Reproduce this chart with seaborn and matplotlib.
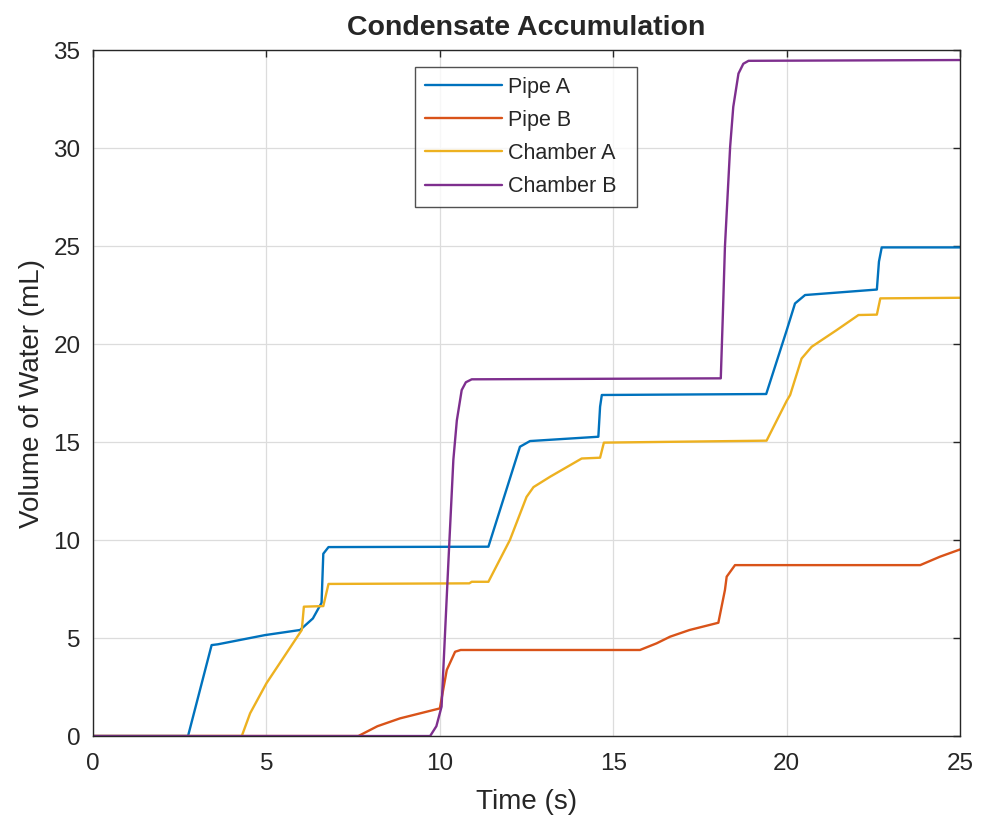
import matplotlib
matplotlib.use("Agg")
import matplotlib.pyplot as plt
import seaborn as sns
import numpy as np
import pandas as pd

# breakpoints (time in s, volume in mL)
pipe_a_t = [0, 2.74, 3.42, 3.6, 4.96, 5.97, 6.34, 6.59, 6.64, 6.79, 11.40, 12.31, 12.6,
            14.57, 14.62, 14.67, 19.41, 20.0, 20.24, 20.53, 22.6, 22.66, 22.74, 25]
pipe_a_v = [0, 0, 4.64, 4.68, 5.15, 5.41, 6.0, 6.8, 9.3, 9.64, 9.66, 14.76, 15.05,
            15.27, 16.8, 17.4, 17.45, 20.7, 22.07, 22.5, 22.78, 24.2, 24.93, 24.93]

pipe_b_t = [0, 7.65, 8.2, 8.85, 10.0, 10.2, 10.44, 10.6, 15.77, 16.25, 16.64, 17.2,
            18.03, 18.22, 18.27, 18.51, 23.85, 24.42, 25]
pipe_b_v = [0, 0, 0.5, 0.9, 1.41, 3.37, 4.3, 4.39, 4.39, 4.73, 5.07, 5.41,
            5.78, 7.45, 8.13, 8.72, 8.72, 9.15, 9.52]

chamber_a_t = [0, 4.29, 4.53, 5.0, 6.02, 6.08, 6.64, 6.79, 10.85, 10.92, 11.4, 12.02,
               12.5, 12.7, 13.18, 14.09, 14.62, 14.73, 19.42, 20.0, 20.1, 20.43,
               20.72, 21.44, 22.07, 22.6, 22.7, 25]
chamber_a_v = [0, 0, 1.16, 2.69, 5.41, 6.6, 6.63, 7.76, 7.79, 7.87, 7.87, 10.0,
               12.2, 12.7, 13.23, 14.16, 14.2, 14.97, 15.07, 17.1, 17.4, 19.26,
               19.86, 20.71, 21.48, 21.5, 22.33, 22.36]

chamber_b_t = [0, 9.72, 9.9, 10.05, 10.25, 10.39, 10.49, 10.63, 10.75, 10.92, 18.1,
               18.16, 18.22, 18.37, 18.46, 18.61, 18.75, 18.9, 25]
chamber_b_v = [0, 0, 0.5, 1.5, 9.0, 14.1, 16.1, 17.65, 18.05, 18.2, 18.25,
               21.5, 24.97, 30.07, 32.1, 33.8, 34.3, 34.45, 34.49]

series_names = ['Pipe A', 'Pipe B', 'Chamber A', 'Chamber B']
colors = ['#0072BD', '#D95319', '#EDB120', '#7E2F8E']


def main():
    sns.set_style("white")
    plt.rcParams['font.family'] = ['Liberation Sans', 'DejaVu Sans']

    frames = []
    for name, t, v in zip(series_names,
                          [pipe_a_t, pipe_b_t, chamber_a_t, chamber_b_t],
                          [pipe_a_v, pipe_b_v, chamber_a_v, chamber_b_v]):
        frames.append(pd.DataFrame({'Time': t, 'Volume': v, 'Series': name}))
    df = pd.concat(frames, ignore_index=True)

    fig = plt.figure(figsize=(9.82, 8.27), dpi=100)
    ax = fig.add_axes([0.0947, 0.110, 0.883, 0.8295])

    sns.lineplot(data=df, x='Time', y='Volume', hue='Series', hue_order=series_names,
                 palette=colors, sort=False, estimator=None, linewidth=1.7, ax=ax)

    ax.set_xlim(0, 25)
    ax.set_ylim(0, 35)
    ax.set_xticks([0, 5, 10, 15, 20, 25])
    ax.set_yticks([0, 5, 10, 15, 20, 25, 30, 35])
    ax.grid(True, color='#dcdcdc', linewidth=0.9)
    ax.set_axisbelow(True)

    for sp in ax.spines.values():
        sp.set_color('#262626')
        sp.set_linewidth(1.0)
    ax.tick_params(direction='in', length=5, width=1.0, colors='#262626',
                   labelsize=17.5, top=True, right=True)
    ax.tick_params(axis='y', pad=9)
    ax.tick_params(axis='x', pad=12)

    ax.set_title('Condensate Accumulation', fontsize=20.5, fontweight='bold', pad=11)
    ax.set_xlabel('Time (s)', fontsize=20, color='#262626', labelpad=10)
    ax.set_ylabel('Volume of Water (mL)', fontsize=20, color='#262626', labelpad=6)

    handles, labels = ax.get_legend_handles_labels()
    leg = ax.legend(handles, labels, loc='upper left',
                    bbox_to_anchor=(0.3714, 0.5, 0.256, 0.475), mode='expand',
                    fontsize=15.5, frameon=True, fancybox=False, handlelength=3.6,
                    borderpad=0.45, labelspacing=0.56, handletextpad=0.25,
                    borderaxespad=0)
    leg.get_frame().set_edgecolor('#262626')
    leg.get_frame().set_linewidth(1.0)

    fig.savefig('out.png', dpi=100)


if __name__ == "__main__":
    main()
